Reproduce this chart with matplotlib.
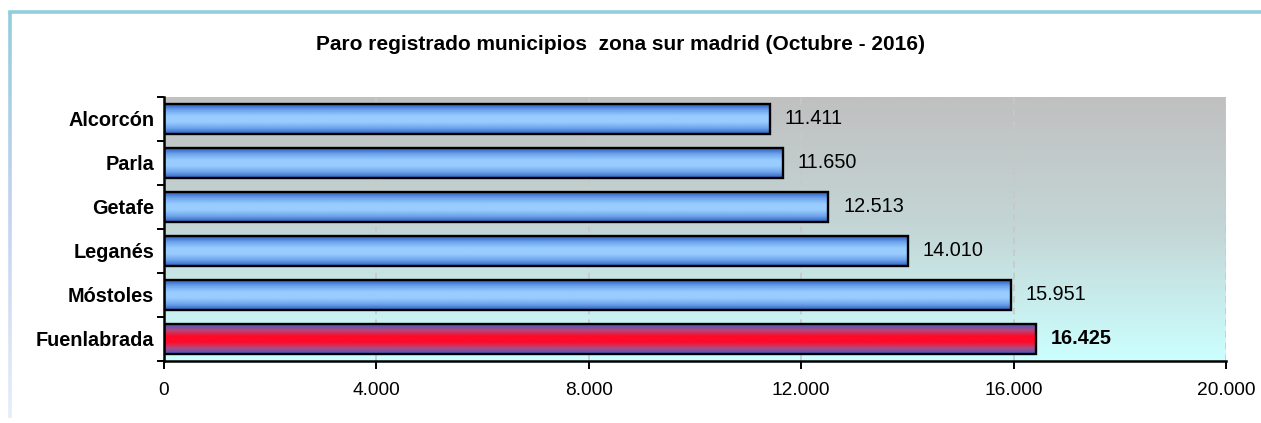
import numpy as np
import matplotlib.pyplot as plt
from matplotlib.colors import LinearSegmentedColormap
from matplotlib.collections import LineCollection
from matplotlib.lines import Line2D
from matplotlib.ticker import FixedLocator, FuncFormatter

plt.rcParams['font.family'] = ['Liberation Sans', 'DejaVu Sans']

# data (top to bottom)
municipios = ['Alcorcón', 'Parla', 'Getafe', 'Leganés', 'Móstoles', 'Fuenlabrada']
parados = [11411, 11650, 12513, 14010, 15951, 16425]
destacado = 'Fuenlabrada'
x_ticks = [0, 4000, 8000, 12000, 16000, 20000]

titulo = 'Paro registrado municipios  zona sur madrid (Octubre - 2016)'

W, H = 1261, 423


def fmt_miles(v, pos=None):
    return f'{int(round(v)):,}'.replace(',', '.')


fig = plt.figure(figsize=(W / 100, H / 100), dpi=100)
ax = fig.add_axes([164 / W, 62 / H, 1062 / W, 264 / H])

# outer frame of the chart object: top line plus fading left line
fig.add_artist(Line2D([10 / W, 1.0], [1 - 12.5 / H] * 2, transform=fig.transFigure,
                      color='#93cddd', linewidth=2.6))
frame_cmap = LinearSegmentedColormap.from_list('frame', ['#93cddd', '#c4d3f0', '#e6ecf9'])
ys = np.linspace(1 - 12.5 / H, 1 - 418 / H, 120)
segs = [[(10 / W, ys[i]), (10 / W, ys[i + 1])] for i in range(len(ys) - 1)]
lc = LineCollection(segs, colors=frame_cmap(np.linspace(0, 1, len(segs))),
                    linewidths=2.6, transform=fig.transFigure)
fig.add_artist(lc)

# plot area background: grey to light cyan
bg = LinearSegmentedColormap.from_list('bg', ['#c0c0c0', '#c4d6d6', '#ccffff'])
ax.imshow(np.linspace(0, 1, 256).reshape(-1, 1), cmap=bg, aspect='auto',
          extent=(0, 20000, len(municipios) - 0.5, -0.5), zorder=0)

y = np.arange(len(municipios))
bars = ax.barh(y, parados, height=0.68, color='none', edgecolor='black',
               linewidth=1.7, zorder=3)

azul = LinearSegmentedColormap.from_list('azul', ['#2c5cc0', '#6fa6ec', '#99ccff',
                                                  '#99ccff', '#6fa6ec', '#2c5cc0'])
rojo = LinearSegmentedColormap.from_list('rojo', ['#3d5fcc', '#b2487e', '#ff0a28',
                                                  '#ff0a28', '#b2487e', '#3d5fcc'])
grad = np.linspace(0, 1, 128).reshape(-1, 1)
for name, bar in zip(municipios, bars):
    x0, y0 = bar.get_x(), bar.get_y()
    w, h = bar.get_width(), bar.get_height()
    cmap = rojo if name == destacado else azul
    im = ax.imshow(grad, cmap=cmap, aspect='auto',
                   extent=(x0, x0 + w, y0 + h, y0), zorder=2)
    im.set_clip_path(bar)

# value labels
for name, bar, v in zip(municipios, bars, parados):
    ax.annotate(fmt_miles(v), (bar.get_width(), bar.get_y() + bar.get_height() / 2),
                xytext=(10.5, 0), textcoords='offset points', va='center', ha='left',
                fontsize=14.3, fontweight='bold' if name == destacado else 'normal',
                color='black', zorder=4)

ax.set_xlim(0, 20000)
ax.set_ylim(len(municipios) - 0.5, -0.5)

ax.xaxis.set_major_locator(FixedLocator(x_ticks))
ax.xaxis.set_major_formatter(FuncFormatter(fmt_miles))
ax.set_yticks(y)
ax.set_yticklabels(municipios, fontweight='bold', fontsize=14.3)
ax.yaxis.set_minor_locator(FixedLocator(np.arange(-0.5, len(municipios), 1)))
ax.tick_params(axis='y', which='major', length=0, pad=7)
ax.tick_params(axis='y', which='minor', length=5, width=1.4, direction='out')
ax.tick_params(axis='x', length=6, width=1.4, direction='out', labelsize=13.8, pad=9)

for x in x_ticks[1:]:
    ax.axvline(x, color='#c8c8c8', linestyle=(0, (4, 3)), linewidth=1.2, zorder=1)

ax.spines['top'].set_visible(False)
ax.spines['right'].set_visible(False)
ax.spines['left'].set_linewidth(1.8)
ax.spines['bottom'].set_linewidth(1.8)
for s in ax.spines.values():
    s.set_zorder(5)

fig.text(620 / W, 1 - 45 / H, titulo, ha='center', va='center',
         fontsize=15, fontweight='bold')

fig.savefig('out.png', dpi=100)
